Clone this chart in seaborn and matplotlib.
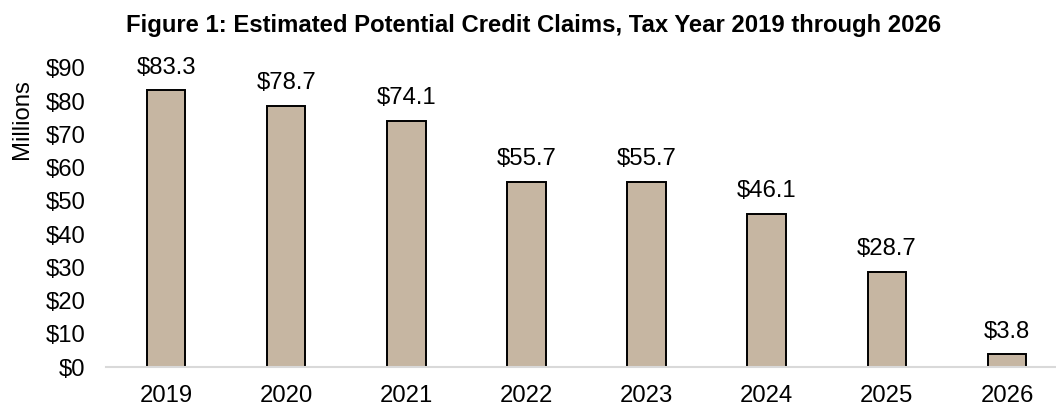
import matplotlib
matplotlib.use("Agg")
import matplotlib.pyplot as plt
import seaborn as sns
import pandas as pd

years = ["2019", "2020", "2021", "2022", "2023", "2024", "2025", "2026"]
claims = [83.3, 78.7, 74.1, 55.7, 55.7, 46.1, 28.7, 3.8]
yticks = [0, 10, 20, 30, 40, 50, 60, 70, 80, 90]

sns.set_theme(style="white")
plt.rcParams["font.family"] = ["Liberation Sans", "DejaVu Sans"]

df = pd.DataFrame({"year": years, "claims": claims})

FS = 17.2

fig = plt.figure(figsize=(10.56, 4.05), dpi=100)
ax = fig.add_axes([106 / 1056, 1 - 367 / 405, (1067 - 106) / 1056, (367 - 68) / 405])

sns.barplot(data=df, x="year", y="claims", color="#C6B6A2", saturation=1,
            width=0.32, edgecolor="black", linewidth=1.4, ax=ax)

for i, v in enumerate(claims):
    ax.annotate(f"${v:.1f}", xy=(i, v), xytext=(0, 12), textcoords="offset points",
                ha="center", va="baseline", fontsize=FS, color="black")

ax.set_xlim(-0.5, 7.5)
ax.set_ylim(0, 90)
ax.set_yticks(yticks)
ax.set_yticklabels([f"${t}" for t in yticks])
ax.tick_params(axis="both", labelsize=FS, length=0, colors="black")
ax.tick_params(axis="x", pad=13)
ax.tick_params(axis="y", pad=15)
ax.set_xlabel("")
ax.set_ylabel("Millions", fontsize=FS, color="black")
ax.yaxis.label.set_va("center")
ax.yaxis.label.set_ha("center")
ax.yaxis.set_label_coords((22 - 106) / 961, (367 - 119) / 299)

for s in ["top", "right", "left"]:
    ax.spines[s].set_visible(False)
ax.spines["bottom"].set_color("#D9D9D9")
ax.spines["bottom"].set_linewidth(1.5)

fig.text(534 / 1056, 1 - 32 / 405, "Figure 1: Estimated Potential Credit Claims, Tax Year 2019 through 2026",
         ha="center", va="baseline", fontsize=17.2, fontweight="bold", color="black")

fig.savefig("out.png", dpi=100)
